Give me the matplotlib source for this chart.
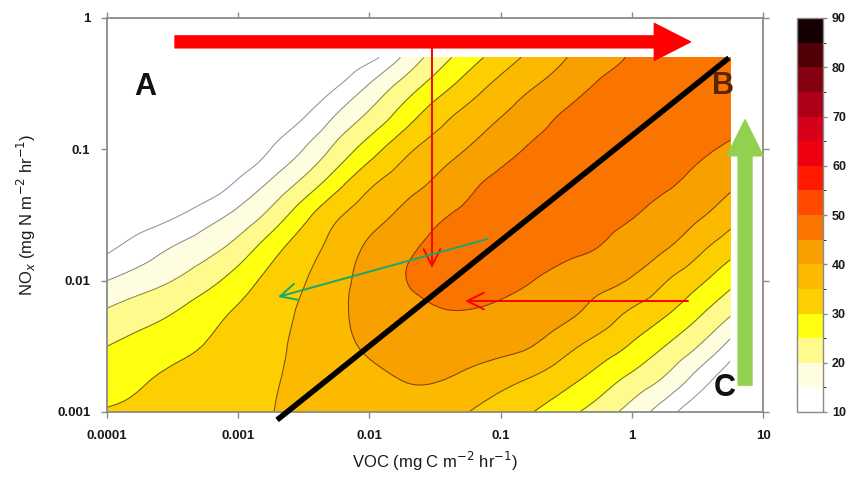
import numpy as np
import matplotlib.pyplot as plt
import matplotlib.tri as mtri
from matplotlib.colors import ListedColormap, BoundaryNorm
from matplotlib.ticker import NullLocator

plt.rcParams['font.family'] = ['Liberation Sans', 'DejaVu Sans']

# log10 grid of the model runs (VOC columns, NOx rows)
voc_exp = [-4.0, -3.75, -3.5, -3.25, -3.0, -2.75, -2.5, -2.25, -2.0, -1.75,
           -1.5, -1.25, -1.0, -0.75, -0.5, -0.25, 0.0, 0.25, 0.5, 0.75]
nox_exp = [-3.0, -2.75, -2.5, -2.25, -2.0, -1.75, -1.5, -1.25, -1.0, -0.75, -0.5, -0.3]

ozone = np.array([
    [30.4, 30.9, 31.9, 32.9, 33.9, 34.9, 36.2, 37.3, 38.0, 38.2, 37.8, 35.1, 32.5, 30.0, 26.5, 22.6, 18.0, 12.4, 6.3, 3.0],
    [27.7, 29.4, 30.9, 32.1, 33.4, 34.6, 36.0, 37.4, 38.8, 40.1, 40.3, 38.8, 36.7, 34.5, 31.5, 27.9, 23.7, 19.4, 13.1, 6.7],
    [25.0, 26.7, 28.5, 30.2, 32.1, 34.0, 36.1, 38.5, 40.7, 42.0, 42.5, 42.3, 41.5, 39.9, 36.4, 33.0, 29.4, 25.0, 20.1, 13.3],
    [20.8, 22.9, 25.0, 28.0, 30.7, 33.2, 35.8, 38.9, 41.6, 43.5, 44.6, 44.8, 44.2, 43.0, 41.0, 37.9, 34.1, 30.6, 25.9, 20.6],
    [15.0, 17.5, 20.0, 23.2, 27.3, 31.5, 34.7, 38.5, 41.7, 44.7, 45.9, 46.2, 46.0, 45.0, 43.3, 41.5, 39.5, 35.4, 31.2, 26.5],
    [9.1, 12.1, 15.2, 18.1, 22.0, 27.8, 32.7, 36.9, 40.9, 44.0, 45.8, 46.6, 46.9, 46.8, 46.1, 44.9, 42.6, 40.4, 36.4, 32.0],
    [6.0, 7.5, 9.3, 12.6, 16.3, 21.5, 28.3, 34.2, 37.8, 41.1, 44.1, 45.8, 46.8, 47.3, 47.3, 46.6, 45.3, 43.2, 40.8, 37.1],
    [3.0, 3.8, 4.8, 6.5, 10.6, 15.5, 21.2, 27.9, 33.9, 37.5, 40.6, 43.8, 46.0, 47.0, 47.6, 47.5, 46.9, 45.7, 43.8, 41.2],
    [2.0, 2.7, 3.5, 4.4, 5.8, 10.1, 15.1, 21.4, 27.6, 33.3, 37.1, 40.2, 43.2, 45.6, 46.8, 47.6, 47.6, 46.9, 45.8, 44.3],
    [1.5, 2.0, 2.7, 3.7, 5.0, 7.0, 9.8, 15.5, 21.1, 27.1, 32.7, 36.7, 39.9, 43.0, 45.6, 46.8, 47.6, 47.8, 47.4, 46.6],
    [1.2, 1.5, 2.0, 2.7, 3.6, 4.8, 6.6, 9.3, 15.0, 21.1, 26.8, 31.9, 36.2, 39.5, 42.5, 45.3, 46.5, 47.3, 47.8, 48.0],
    [1.0, 1.2, 1.5, 2.0, 2.7, 3.6, 4.8, 6.5, 8.3, 15.4, 22.1, 27.6, 32.4, 36.4, 39.9, 42.8, 45.4, 46.5, 47.5, 48.0],
])

levels = [10, 15, 20, 25, 30, 35, 40, 45, 50, 55, 60, 65, 70, 75, 80, 85, 90]
fill_colors = ['#ffffff', '#fffde0', '#fffa8c', '#ffff10', '#fdcf00', '#fbb900',
               '#f8a000', '#fa7400', '#ff4a00', '#ff1a00', '#ef0010', '#d6001a',
               '#ad0018', '#850010', '#520008', '#140000']
line_colors = ['#8a94aa', '#8c8c8c', '#8a8a55', '#707022', '#6a6212', '#745312',
               '#7a4510', '#8a3a0a', '#7a2000', '#700000', '#600000', '#500000',
               '#400000', '#300000', '#200000', '#100000', '#000000']
cbar_ticks = [10, 20, 30, 40, 50, 60, 70, 80, 90]

voc_ticks = [0.0001, 0.001, 0.01, 0.1, 1, 10]
voc_labels = ['0.0001', '0.001', '0.01', '0.1', '1', '10']
nox_ticks = [0.001, 0.01, 0.1, 1]
nox_labels = ['0.001', '0.01', '0.1', '1']

# smooth isopleths: refine the triangulated grid in log space
LX, LY = np.meshgrid(voc_exp, nox_exp)
tri_log = mtri.Triangulation(LX.ravel(), LY.ravel())
refiner = mtri.UniformTriRefiner(tri_log)
tri_fine, oz_fine = refiner.refine_field(ozone.ravel(), subdiv=3)
tri_plot = mtri.Triangulation(10 ** tri_fine.x, 10 ** tri_fine.y, tri_fine.triangles)

cmap = ListedColormap(fill_colors)
norm = BoundaryNorm(levels, cmap.N)

fig = plt.figure(figsize=(8.55, 4.84), dpi=100)
ax = fig.add_axes([107 / 855, 72 / 484, 656 / 855, 394 / 484])
ax.set_xscale('log')
ax.set_yscale('log')

cf = ax.tricontourf(tri_plot, oz_fine, levels=levels, cmap=cmap, norm=norm)
ax.tricontour(tri_plot, oz_fine, levels=levels, colors=line_colors, linewidths=0.75)

ax.set_xlim(1e-4, 10)
ax.set_ylim(1e-3, 1)
ax.set_xticks(voc_ticks)
ax.set_xticklabels(voc_labels)
ax.set_yticks(nox_ticks)
ax.set_yticklabels(nox_labels)
ax.xaxis.set_minor_locator(NullLocator())
ax.yaxis.set_minor_locator(NullLocator())
ax.tick_params(direction='out', length=4, width=1, color='#8a8a8a',
               top=True, right=True, labelsize=9.5, labelcolor='#1a1a1a')
ax.tick_params(axis='x', pad=9)
ax.tick_params(axis='y', pad=8)
for lab in ax.get_xticklabels() + ax.get_yticklabels():
    lab.set_fontweight('bold')
for sp in ax.spines.values():
    sp.set_color('#8a8a8a')
    sp.set_linewidth(1.3)

ax.set_xlabel(r'VOC (mg C m$^{-2}$ hr$^{-1}$)', fontsize=12, color='#1a1a1a', labelpad=6)
ax.set_ylabel(r'NO$_x$ (mg N m$^{-2}$ hr$^{-1}$)', fontsize=12, color='#1a1a1a', labelpad=14)

# boundary between NOx- and VOC-limited regimes
ax.plot([0.00198, 5.5], [0.00087, 0.497], color='k', lw=4, clip_on=False,
        solid_capstyle='butt', zorder=5)

# arrows
ax.annotate('', xy=(2.8, 0.658), xytext=(3.3e-4, 0.658),
            arrowprops=dict(width=8.6, headwidth=26.5, headlength=26, color='#ff0000', shrink=0),
            zorder=6)
ax.annotate('', xy=(7.3, 0.168), xytext=(7.3, 0.0016),
            arrowprops=dict(width=10, headwidth=26, headlength=26, color='#92d050', shrink=0),
            annotation_clip=False, zorder=6)
ax.annotate('', xy=(0.030, 0.0125), xytext=(0.030, 0.658),
            arrowprops=dict(arrowstyle='->, head_length=0.6, head_width=0.3', color='#ff0000',
                            lw=1.4, mutation_scale=20, shrinkA=0, shrinkB=0), zorder=6)
ax.annotate('', xy=(0.0536, 0.0070), xytext=(2.68, 0.0070),
            arrowprops=dict(arrowstyle='->, head_length=0.6, head_width=0.3', color='#ff0000',
                            lw=1.4, mutation_scale=20, shrinkA=0, shrinkB=0), zorder=6)
ax.annotate('', xy=(0.00201, 0.00752), xytext=(0.080, 0.0208),
            arrowprops=dict(arrowstyle='->, head_length=0.6, head_width=0.3', color='#17a96b',
                            lw=1.4, mutation_scale=20, shrinkA=0, shrinkB=0), zorder=6)

ax.text(0.058, 0.825, 'A', transform=ax.transAxes, fontsize=22, fontweight='bold',
        ha='center', va='center', color='#111111', zorder=7)
ax.text(0.939, 0.827, 'B', transform=ax.transAxes, fontsize=22, fontweight='bold',
        ha='center', va='center', color='#5a2600', zorder=7)
ax.text(0.942, 0.061, 'C', transform=ax.transAxes, fontsize=22, fontweight='bold',
        ha='center', va='center', color='#111111', zorder=7)

# colour bar
cax = fig.add_axes([797 / 855, 72 / 484, 26 / 855, 394 / 484])
cb = fig.colorbar(cf, cax=cax, ticks=cbar_ticks)
cb.outline.set_edgecolor('#8a8a8a')
cb.outline.set_linewidth(1.0)
cax.tick_params(direction='out', length=3, width=1, color='#8a8a8a', labelsize=9,
                labelcolor='#1a1a1a')
for lab in cax.get_yticklabels():
    lab.set_fontweight('bold')

fig.savefig('out.png', dpi=100)
